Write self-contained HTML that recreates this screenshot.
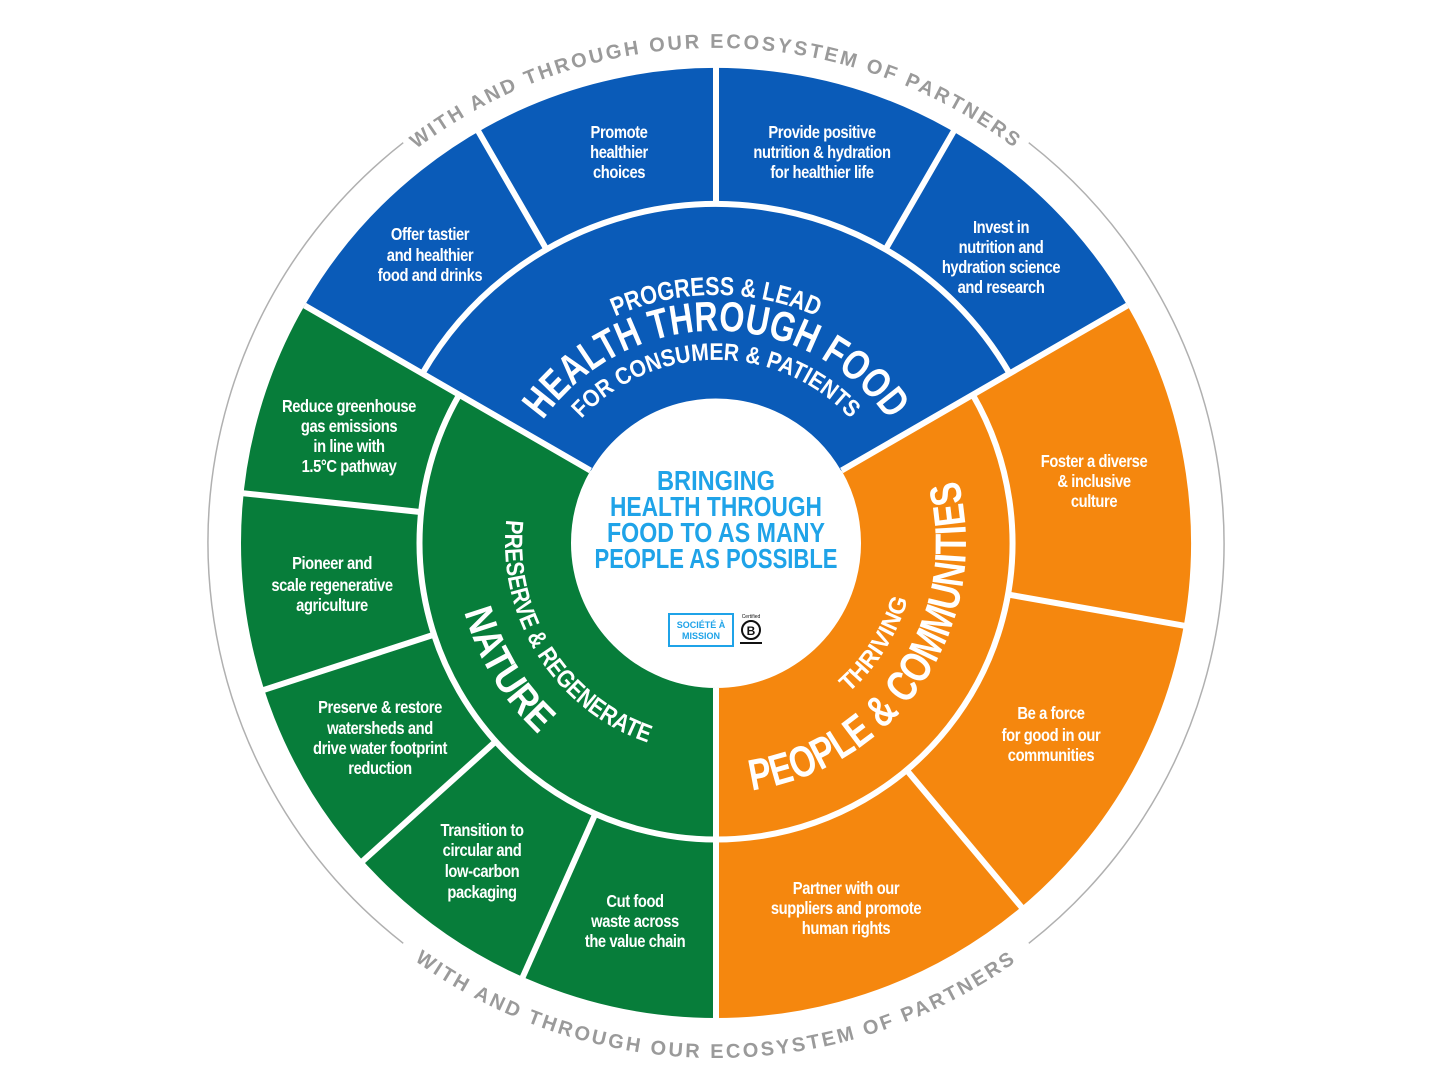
<!DOCTYPE html>
<html><head><meta charset="utf-8"><style>
html,body{margin:0;padding:0;background:#fff;width:1440px;height:1080px;overflow:hidden}
svg{display:block}
.lbl{font-family:"Liberation Sans",sans-serif;font-weight:bold;fill:#fff;font-size:18px;text-anchor:middle;letter-spacing:-0.5px}
.arc{font-family:"Liberation Sans",sans-serif;font-weight:bold;fill:#fff}
.ring{font-family:"Liberation Sans",sans-serif;font-weight:bold;fill:#9a9a9a;font-size:20px;letter-spacing:2.6px}
.ctr{font-family:"Liberation Sans",sans-serif;font-weight:bold;fill:#1fa3e8;font-size:28px;text-anchor:middle}
</style></head><body>
<svg width="1440" height="1080" viewBox="0 0 1440 1080" xmlns="http://www.w3.org/2000/svg">
<rect width="1440" height="1080" fill="#fff"/>
<g transform="translate(716,543)">
 <circle r="407" fill="none" stroke="#0a5bb8" stroke-width="136" stroke-dasharray="852.5 3000" transform="rotate(210)"/>
 <circle r="386.5" fill="none" stroke="#f5870e" stroke-width="177" stroke-dasharray="809.5 3000" transform="rotate(-30)"/>
 <circle r="386.5" fill="none" stroke="#077d3a" stroke-width="177" stroke-dasharray="809.5 3000" transform="rotate(90)"/>
 <circle r="241.5" fill="none" stroke="#0a5bb8" stroke-width="194" stroke-dasharray="505.8 2000" transform="rotate(210)"/>
 <circle r="220" fill="none" stroke="#f5870e" stroke-width="150" stroke-dasharray="460.8 2000" transform="rotate(-30)"/>
 <circle r="220" fill="none" stroke="#077d3a" stroke-width="150" stroke-dasharray="460.8 2000" transform="rotate(90)"/>
 <circle r="339" fill="none" stroke="#fff" stroke-width="6" stroke-dasharray="710 3000" transform="rotate(210)"/>
 <circle r="296.5" fill="none" stroke="#fff" stroke-width="6" stroke-dasharray="1242 3000" transform="rotate(-30)"/>
 <circle r="508" fill="none" stroke="#b0b0b0" stroke-width="1.5" stroke-dasharray="922 4000" transform="rotate(-52)"/>
 <circle r="508" fill="none" stroke="#b0b0b0" stroke-width="1.5" stroke-dasharray="922 4000" transform="rotate(128)"/>
</g>
<g stroke="#fff" stroke-width="6">
 <line x1="841.6" y1="470.5" x2="1127.4" y2="305.5"/>
 <line x1="716" y1="688" x2="716" y2="1018"/>
 <line x1="590.4" y1="470.5" x2="304.6" y2="305.5"/>
 <line x1="547" y1="250.3" x2="477" y2="129"/>
 <line x1="716" y1="205" x2="716" y2="65"/>
 <line x1="885" y1="250.3" x2="955" y2="129"/>
 <line x1="1007.5" y1="594.4" x2="1186.8" y2="626.2"/>
 <line x1="906.3" y1="769.7" x2="1023.2" y2="909.2"/>
 <line x1="595.5" y1="813.5" x2="521.6" y2="979.7"/>
 <line x1="496.1" y1="741" x2="360.8" y2="862.8"/>
 <line x1="434.5" y1="634.5" x2="261.4" y2="690.7"/>
 <line x1="421.5" y1="512.1" x2="240.6" y2="493"/>
</g>
<circle cx="716" cy="543" r="144" fill="#fff"/>
<defs>
 <path id="pTop" d="M287.3,295.5 A495,495 0 0 1 1144.7,295.5"/>
 <path id="pBot" d="M270,800.5 A515,515 0 0 0 1162,800.5"/>
 <path id="pProg" d="M501.2,419 A248,248 0 0 1 930.8,419"/>
 <path id="pHealth" d="M516.7,470.5 A212,212 0 0 1 915.3,470.5"/>
 <path id="pFor" d="M544,480.4 A183,183 0 0 1 888,480.4"/>
 <path id="pPres" d="M533.3,437.5 A211,211 0 0 0 716,754"/>
 <path id="pNat" d="M490,412.5 A261,261 0 0 0 716,804"/>
 <path id="pPeople" d="M716,793 A250,250 0 0 0 932.5,418"/>
 <path id="pThr" d="M716,743 A200,200 0 0 0 889.2,443"/>
</defs>
<text class="ring"><textPath href="#pTop" startOffset="50%" text-anchor="middle">WITH AND THROUGH OUR ECOSYSTEM OF PARTNERS</textPath></text>
<text class="ring"><textPath href="#pBot" startOffset="50%" text-anchor="middle">WITH AND THROUGH OUR ECOSYSTEM OF PARTNERS</textPath></text>
<text class="arc" font-size="26"><textPath href="#pProg" startOffset="50%" text-anchor="middle" textLength="208" lengthAdjust="spacingAndGlyphs">PROGRESS &amp; LEAD</textPath></text>
<text class="arc" font-size="42"><textPath href="#pHealth" startOffset="50%" text-anchor="middle" textLength="405" lengthAdjust="spacingAndGlyphs">HEALTH THROUGH FOOD</textPath></text>
<text class="arc" font-size="24"><textPath href="#pFor" startOffset="50%" text-anchor="middle" textLength="302" lengthAdjust="spacingAndGlyphs">FOR CONSUMER &amp; PATIENTS</textPath></text>
<text class="arc" font-size="25"><textPath href="#pPres" startOffset="52%" text-anchor="middle" textLength="285" lengthAdjust="spacingAndGlyphs">PRESERVE &amp; REGENERATE</textPath></text>
<text class="arc" font-size="40"><textPath href="#pNat" startOffset="51%" text-anchor="middle" textLength="145" lengthAdjust="spacingAndGlyphs">NATURE</textPath></text>
<text class="arc" font-size="44"><textPath href="#pPeople" startOffset="47%" text-anchor="middle" textLength="420" lengthAdjust="spacingAndGlyphs">PEOPLE &amp; COMMUNITIES</textPath></text>
<text class="arc" font-size="24"><textPath href="#pThr" startOffset="48%" text-anchor="middle" textLength="112" lengthAdjust="spacingAndGlyphs">THRIVING</textPath></text>

<g class="lbl">
 <g transform="translate(619,0) scale(.82,1)"><text x="0" y="138">Promote</text><text x="0" y="158">healthier</text><text x="0" y="178">choices</text></g>
 <g transform="translate(822,0) scale(.82,1)"><text x="0" y="138">Provide positive</text><text x="0" y="158">nutrition &amp; hydration</text><text x="0" y="178">for healthier life</text></g>
 <g transform="translate(430,0) scale(.82,1)"><text x="0" y="240">Offer tastier</text><text x="0" y="261">and healthier</text><text x="0" y="281">food and drinks</text></g>
 <g transform="translate(1001,0) scale(.82,1)"><text x="0" y="233">Invest in</text><text x="0" y="253">nutrition and</text><text x="0" y="273">hydration science</text><text x="0" y="293">and research</text></g>
 <g transform="translate(1094,0) scale(.82,1)"><text x="0" y="467">Foster a diverse</text><text x="0" y="487">&amp; inclusive</text><text x="0" y="507">culture</text></g>
 <g transform="translate(1051,0) scale(.82,1)"><text x="0" y="719">Be a force</text><text x="0" y="741">for good in our</text><text x="0" y="761">communities</text></g>
 <g transform="translate(846,0) scale(.82,1)"><text x="0" y="894">Partner with our</text><text x="0" y="914">suppliers and promote</text><text x="0" y="934">human rights</text></g>
 <g transform="translate(635,0) scale(.82,1)"><text x="0" y="907">Cut food</text><text x="0" y="927">waste across</text><text x="0" y="947">the value chain</text></g>
 <g transform="translate(482,0) scale(.82,1)"><text x="0" y="836">Transition to</text><text x="0" y="856">circular and</text><text x="0" y="877">low-carbon</text><text x="0" y="898">packaging</text></g>
 <g transform="translate(380,0) scale(.82,1)"><text x="0" y="713">Preserve &amp; restore</text><text x="0" y="734">watersheds and</text><text x="0" y="754">drive water footprint</text><text x="0" y="774">reduction</text></g>
 <g transform="translate(332,0) scale(.82,1)"><text x="0" y="569">Pioneer and</text><text x="0" y="591">scale regenerative</text><text x="0" y="611">agriculture</text></g>
 <g transform="translate(349,0) scale(.82,1)"><text x="0" y="412">Reduce greenhouse</text><text x="0" y="432">gas emissions</text><text x="0" y="452">in line with</text><text x="0" y="472">1.5°C pathway</text></g>
</g>

<g class="ctr">
 <text x="716" y="490" textLength="118" lengthAdjust="spacingAndGlyphs">BRINGING</text>
 <text x="716" y="516" textLength="212" lengthAdjust="spacingAndGlyphs">HEALTH THROUGH</text>
 <text x="716" y="542" textLength="218" lengthAdjust="spacingAndGlyphs">FOOD TO AS MANY</text>
 <text x="716" y="568" textLength="243" lengthAdjust="spacingAndGlyphs">PEOPLE AS POSSIBLE</text>
</g>
<rect x="669" y="614" width="64" height="32" fill="none" stroke="#1fa3e8" stroke-width="2"/>
<text x="701" y="628" font-family="Liberation Sans,sans-serif" font-weight="bold" font-size="9" fill="#1fa3e8" text-anchor="middle">SOCIÉTÉ À</text>
<text x="701" y="639" font-family="Liberation Sans,sans-serif" font-weight="bold" font-size="9" fill="#1fa3e8" text-anchor="middle">MISSION</text>
<circle cx="751" cy="630" r="9" fill="none" stroke="#111" stroke-width="2"/>
<text x="751" y="635" font-family="Liberation Sans,sans-serif" font-weight="bold" font-size="12" fill="#111" text-anchor="middle">B</text>
<line x1="740" y1="643" x2="762" y2="643" stroke="#111" stroke-width="2"/>
<text x="751" y="618" font-family="Liberation Sans,sans-serif" font-size="5" fill="#111" text-anchor="middle">Certified</text>
</svg>
</body></html>
